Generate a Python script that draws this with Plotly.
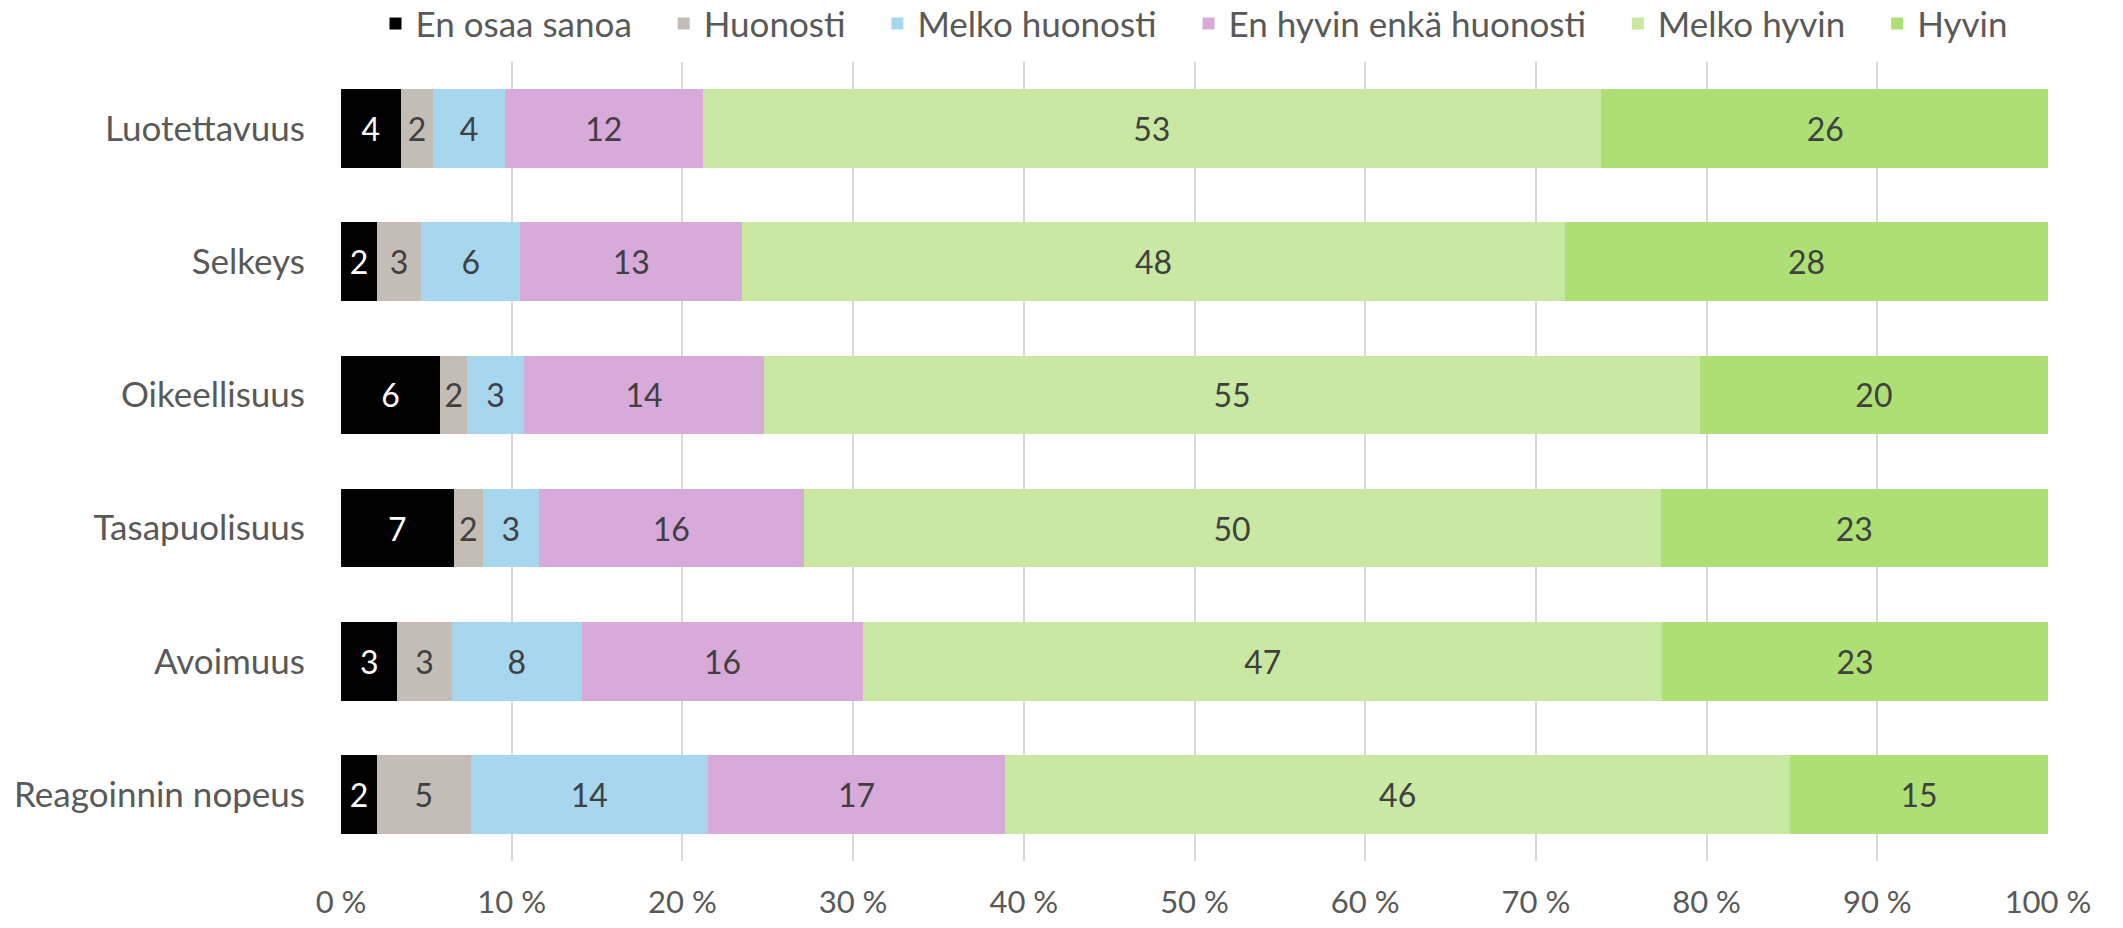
import plotly.graph_objects as go

# %%
# Data (share of answers, %)
categories = ["Luotettavuus", "Selkeys", "Oikeellisuus",
              "Tasapuolisuus", "Avoimuus", "Reagoinnin nopeus"]

en_osaa_sanoa = [3.5, 2.1, 5.8, 6.6, 3.3, 2.1]
huonosti = [1.9, 2.6, 1.6, 1.7, 3.2, 5.5]
melko_huonosti = [4.2, 5.8, 3.3, 3.3, 7.6, 13.9]
en_hyvin_enka = [11.6, 13.0, 14.1, 15.5, 16.5, 17.4]
melko_hyvin = [52.6, 48.2, 54.8, 50.2, 46.8, 46.0]
hyvin = [26.3, 28.3, 20.4, 22.7, 22.6, 15.1]

# labels shown in the bars (rounded in the source)
lbl_en_osaa_sanoa = [4, 2, 6, 7, 3, 2]
lbl_huonosti = [2, 3, 2, 2, 3, 5]
lbl_melko_huonosti = [4, 6, 3, 3, 8, 14]
lbl_en_hyvin_enka = [12, 13, 14, 16, 16, 17]
lbl_melko_hyvin = [53, 48, 55, 50, 47, 46]
lbl_hyvin = [26, 28, 20, 23, 23, 15]

x_ticks = [0, 10, 20, 30, 40, 50, 60, 70, 80, 90, 100]
x_tick_text = [f"{t} %" for t in x_ticks]

# %%
FONT = "Lato, 'Open Sans', sans-serif"
PAD = "\u00a0" * 3  # extra room between legend entries
series = [
    ("En osaa sanoa", en_osaa_sanoa, lbl_en_osaa_sanoa, "#000000", "#ffffff"),
    ("Huonosti", huonosti, lbl_huonosti, "#c4bdb6", "#404040"),
    ("Melko huonosti", melko_huonosti, lbl_melko_huonosti, "#a6d7ee", "#404040"),
    ("En hyvin enkä huonosti", en_hyvin_enka, lbl_en_hyvin_enka, "#d7aad9", "#404040"),
    ("Melko hyvin", melko_hyvin, lbl_melko_hyvin, "#c9e9a3", "#404040"),
    ("Hyvin", hyvin, lbl_hyvin, "#aedf75", "#404040"),
]

fig = go.Figure()
for i, (name, vals, lbls, color, tcolor) in enumerate(series):
    fig.add_trace(go.Bar(
        y=categories, x=vals, orientation="h",
        name=name + (PAD if i < len(series) - 1 else ""),
        marker=dict(color=color, line=dict(width=0)),
        text=[str(v) for v in lbls], textposition="inside",
        insidetextanchor="middle", textangle=0,
        insidetextfont=dict(color=tcolor, size=32, family=FONT),
    ))

fig.update_layout(
    barmode="stack", bargap=0.41,
    width=2123, height=928,
    margin=dict(l=341, r=75, t=62, b=67, autoexpand=False),
    plot_bgcolor="white", paper_bgcolor="white",
    font=dict(family=FONT, size=32, color="#595959"),
    uniformtext=dict(minsize=24, mode="show"),
    legend=dict(orientation="h", x=0.5, xanchor="center",
                y=1.048, yanchor="middle",
                traceorder="normal", itemwidth=30,
                font=dict(size=35, color="#595959")),
    showlegend=True,
)
fig.update_xaxes(range=[0, 100], tickvals=x_ticks, ticktext=x_tick_text,
                 showgrid=True, gridcolor="#d9d9d9", gridwidth=1.5,
                 zeroline=False, showline=False, ticklabelstandoff=20,
                 tickfont=dict(size=31, color="#595959"))
fig.update_yaxes(autorange="reversed", showgrid=False, showline=False,
                 ticklabelstandoff=35,
                 tickfont=dict(size=35, color="#595959"))

# drop the default 8px page margin so the figure sits at the window corner
fig.write_html("out.html", config={"displayModeBar": False},
               post_script="document.body.style.margin='0px';")
